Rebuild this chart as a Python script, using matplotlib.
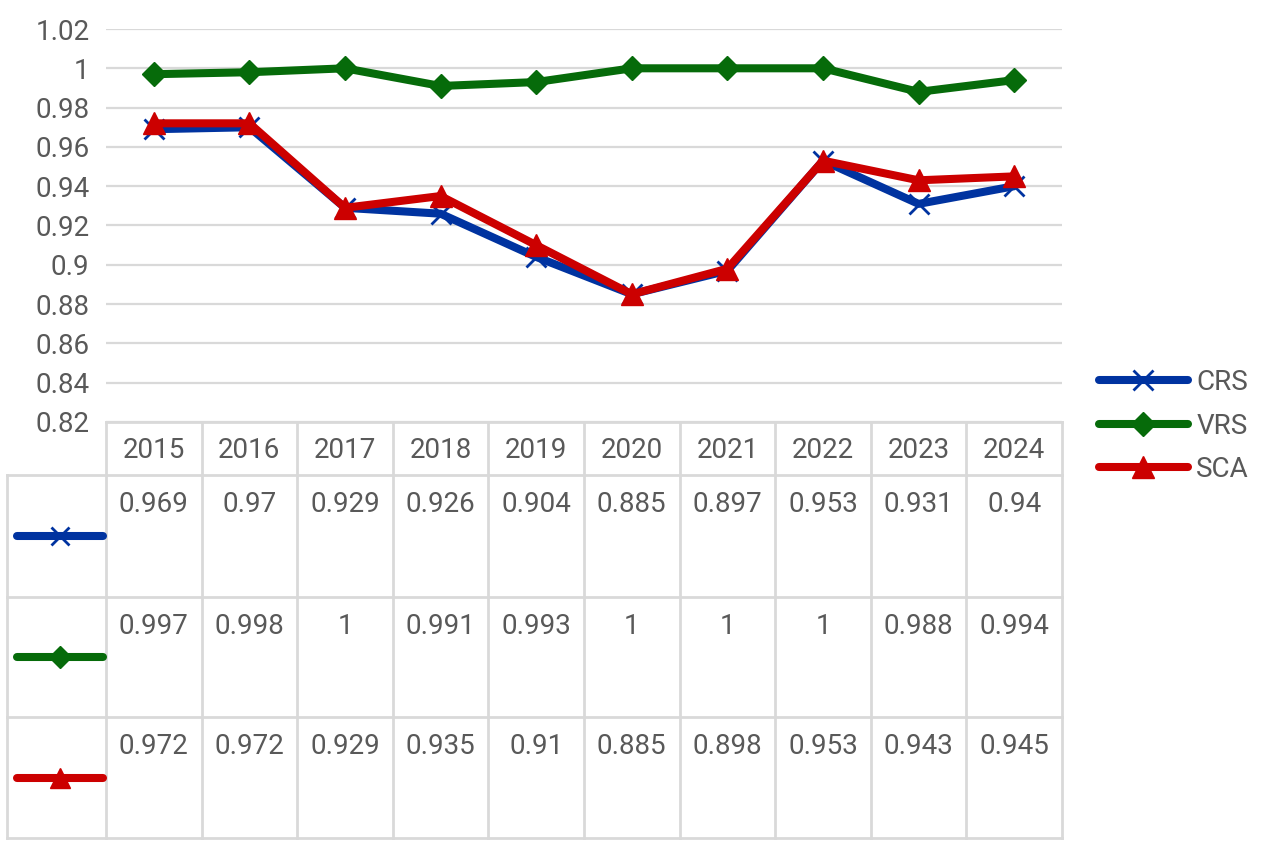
import matplotlib
matplotlib.use("Agg")
import matplotlib.pyplot as plt

years = ["2015", "2016", "2017", "2018", "2019", "2020", "2021", "2022", "2023", "2024"]
series_names = ["CRS", "VRS", "SCA"]
crs = [0.969, 0.97, 0.929, 0.926, 0.904, 0.885, 0.897, 0.953, 0.931, 0.94]
vrs = [0.997, 0.998, 1, 0.991, 0.993, 1, 1, 1, 0.988, 0.994]
sca = [0.972, 0.972, 0.929, 0.935, 0.91, 0.885, 0.898, 0.953, 0.943, 0.945]
yticks = [0.82, 0.84, 0.86, 0.88, 0.9, 0.92, 0.94, 0.96, 0.98, 1.0, 1.02]
ytick_labels = ["0.82", "0.84", "0.86", "0.88", "0.9", "0.92", "0.94", "0.96", "0.98", "1", "1.02"]

colors = ["#0033A0", "#066B0A", "#CC0000"]
markers = ["x", "D", "^"]
msizes = [14, 12, 16]
TXT = "#595959"
GRID = "#D9D9D9"
FONT = ["Roboto", "DejaVu Sans"]
plt.rcParams["font.family"] = FONT

W, H = 1272, 848
fig = plt.figure(figsize=(W / 100, H / 100), dpi=100)

L, R, T, B = 106, 1062, 29, 422
ax = fig.add_axes([L / W, 1 - B / H, (R - L) / W, (B - T) / H])
x = list(range(len(years)))
data = [crs, vrs, sca]
handles = []
for vals, c, m, ms, name in zip(data, colors, markers, msizes, series_names):
    mew = 2 if m == "x" else 1
    h, = ax.plot(x, vals, color=c, lw=5.8, marker=m, ms=ms, mew=mew,
                 mec=c, mfc=c, solid_capstyle="round", solid_joinstyle="round",
                 label=name, zorder=3)
    handles.append(h)

ax.set_xlim(-0.5, len(years) - 0.5)
ax.set_ylim(0.82, 1.02)
ax.set_yticks(yticks)
ax.set_yticklabels(ytick_labels)
ax.set_xticks([])
ax.tick_params(axis="y", length=0, pad=12, labelsize=20, labelcolor=TXT)
ax.grid(axis="y", color=GRID, lw=1.6, zorder=0)
for s in ax.spines.values():
    s.set_visible(False)

leg = fig.legend(handles=handles, loc="center left",
                 bbox_to_anchor=(1085 / W, 1 - 426 / H), frameon=False,
                 fontsize=20, handlelength=3.2, handletextpad=0.3,
                 labelspacing=0.6, borderpad=0)
for t in leg.get_texts():
    t.set_color(TXT)

# data table overlay in pixel coordinates
tab = fig.add_axes([0, 0, 1, 1], zorder=-1)
tab.set_xlim(0, W)
tab.set_ylim(H, 0)
tab.axis("off")
tab.patch.set_alpha(0)

cw = (R - L) / len(years)
rows_y = [422, 475, 597, 717, 838]
lk = dict(color=GRID, lw=2, zorder=1)
tab.plot([L, R], [rows_y[0], rows_y[0]], **lk)
for yy in rows_y[1:]:
    tab.plot([7, R], [yy, yy], **lk)
tab.plot([7, 7], [rows_y[1], rows_y[-1]], **lk)
for i in range(len(years) + 1):
    xx = L + i * cw
    tab.plot([xx, xx], [rows_y[0], rows_y[-1]], **lk)

for i, yr in enumerate(years):
    tab.text(L + (i + 0.5) * cw, 450, yr, ha="center", va="center",
             fontsize=20, color=TXT)

for r, (vals, c, m, ms) in enumerate(zip(data, colors, markers, msizes)):
    y0 = rows_y[r + 1]
    y1 = rows_y[r + 2]
    for i, v in enumerate(vals):
        tab.text(L + (i + 0.5) * cw, y0 + 30, f"{v:g}", ha="center",
                 va="center", fontsize=20, color=TXT)
    ym = (y0 + y1) / 2
    tab.plot([17, 103], [ym, ym], color=c, lw=5.8, solid_capstyle="round", zorder=2)
    mew = 2 if m == "x" else 1
    tab.plot([60], [ym], marker=m, ms=ms * 0.9, color=c, mew=mew, zorder=3)

fig.savefig("out.png", dpi=100, facecolor="white")
